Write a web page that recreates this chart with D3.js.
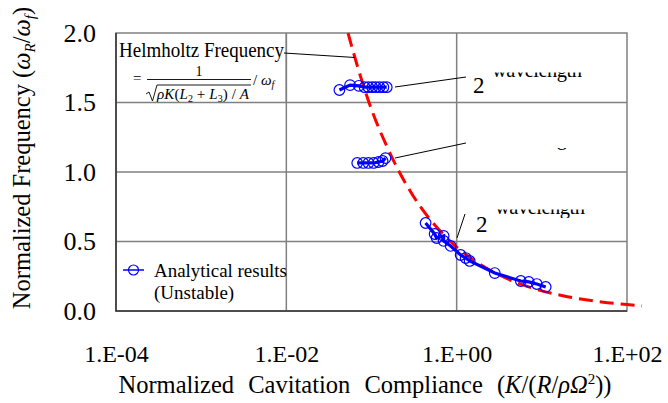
<!DOCTYPE html>
<html>
<head>
<meta charset="utf-8">
<script src="https://cdn.jsdelivr.net/npm/d3@7"></script>
<style>
  html, body { margin: 0; padding: 0; background: #fff; }
  svg { display: block; font-family: "Liberation Serif", "Times New Roman", serif; }
</style>
</head>
<body>
<svg id="chart" width="668" height="403"></svg>
<script>
// Axis ticks
const xTicks = [1e-4, 1e-2, 1, 1e2];
const yTicks = [0, 0.5, 1.0, 1.5, 2.0];

// Analytical results (unstable), normalized compliance vs normalized frequency
const upperK = [0.042, 0.056, 0.071, 0.083, 0.092, 0.102, 0.112, 0.124, 0.138, 0.151];
const upperF = [1.59, 1.625, 1.62, 1.61, 1.61, 1.61, 1.61, 1.61, 1.61, 1.61];

const middleK = [0.068, 0.080, 0.092, 0.106, 0.121, 0.135, 0.146];
const middleF = [1.065, 1.065, 1.065, 1.065, 1.072, 1.079, 1.10];

const lowerK = [0.432, 0.551, 0.582, 0.703, 0.703, 0.850, 1.114, 1.276, 1.422, 2.80, 5.66, 7.03, 8.73, 11.1];
const lowerF = [0.633, 0.554, 0.525, 0.540, 0.504, 0.468, 0.403, 0.381, 0.360, 0.273, 0.216, 0.209, 0.194, 0.173];

// Helmholtz frequency curve
const helmK = [0.053, 0.07, 0.1, 0.15, 0.2, 0.3, 0.5, 0.7, 1, 1.5, 2, 3, 5, 7, 10, 20, 30, 50, 100, 150];
const helmF = [2.0, 1.74, 1.45, 1.19, 1.03, 0.84, 0.65, 0.55, 0.46, 0.376, 0.325, 0.266, 0.206, 0.174, 0.145, 0.103, 0.084, 0.065, 0.046, 0.038];

const svg = d3.select("#chart");
const pL = 116, pR = 627, pT = 33, pB = 311;

const x = d3.scaleLog().domain([1e-4, 1e2]).range([pL, pR]);
const y = d3.scaleLinear().domain([0, 2]).range([pB, pT]);

const gridColor = "#808080";

// Grid
svg.append("g").selectAll("line").data([0.5, 1.0, 1.5]).join("line")
  .attr("x1", pL).attr("x2", pR)
  .attr("y1", d => y(d)).attr("y2", d => y(d))
  .attr("stroke", gridColor).attr("stroke-width", 1.5);
svg.append("g").selectAll("line").data([1e-2, 1]).join("line")
  .attr("x1", d => x(d)).attr("x2", d => x(d))
  .attr("y1", pT).attr("y2", pB)
  .attr("stroke", gridColor).attr("stroke-width", 1.5);

// Frame
svg.append("rect").attr("x", pL).attr("y", pT)
  .attr("width", pR - pL).attr("height", pB - pT)
  .attr("fill", "none").attr("stroke", gridColor).attr("stroke-width", 1.5);
svg.append("path")
  .attr("d", `M${pL},${pT}V${pB}H${pR}`)
  .attr("fill", "none").attr("stroke", "#333").attr("stroke-width", 1.5);

// Axes
const fmtX = d => {
  const e = Math.round(Math.log10(d));
  return "1.E" + (e < 0 ? "-" : "+") + String(Math.abs(e)).padStart(2, "0");
};
const gx = svg.append("g").attr("transform", `translate(0,${pB})`)
  .call(d3.axisBottom(x).tickValues(xTicks).tickFormat(fmtX).tickSize(0).tickPadding(34));
gx.select(".domain").remove();
gx.selectAll("text").attr("font-size", 24).attr("font-family", "Liberation Serif").attr("fill", "#000");

const gy = svg.append("g").attr("transform", `translate(${pL},0)`)
  .call(d3.axisLeft(y).tickValues(yTicks).tickFormat(d3.format(".1f")).tickSize(0).tickPadding(20));
gy.select(".domain").remove();
gy.selectAll("text").attr("font-size", 26).attr("font-family", "Liberation Serif").attr("fill", "#000");

// Axis titles
const xt = svg.append("text").attr("x", 365).attr("y", 393)
  .attr("text-anchor", "middle").attr("font-size", 24.5).attr("fill", "#000")
  .attr("word-spacing", 8);
xt.append("tspan").text("Normalized Cavitation Compliance (");
xt.append("tspan").attr("font-style", "italic").text("K");
xt.append("tspan").text("/(");
xt.append("tspan").attr("font-style", "italic").text("R");
xt.append("tspan").text("/");
xt.append("tspan").attr("font-style", "italic").text("ρΩ");
xt.append("tspan").attr("font-size", 15).attr("dy", -9).text("2");
xt.append("tspan").attr("dy", 9).text("))");

const yt = svg.append("text").attr("transform", "translate(30,158) rotate(-90)")
  .attr("text-anchor", "middle").attr("font-size", 24.5).attr("fill", "#000");
yt.append("tspan").text("Normalized Frequency (");
yt.append("tspan").attr("font-style", "italic").text("ω");
yt.append("tspan").attr("font-style", "italic").attr("font-size", 15).attr("dy", 5).text("R");
yt.append("tspan").attr("dy", -5).text("/");
yt.append("tspan").attr("font-style", "italic").text("ω");
yt.append("tspan").attr("font-style", "italic").attr("font-size", 15).attr("dy", 5).text("f");
yt.append("tspan").attr("dy", -5).text(")");

// Helmholtz curve
const helm = helmK.map((k, i) => [k, helmF[i]]);
svg.append("path").datum(helm)
  .attr("d", d3.line().x(d => x(d[0])).y(d => y(d[1])).curve(d3.curveMonotoneX))
  .attr("fill", "none").attr("stroke", "#ff0000").attr("stroke-width", 3)
  .attr("stroke-dasharray", "14,7");

// Analytical result series
const blue = "#0000ff";
const groups = [
  upperK.map((k, i) => [k, upperF[i]]),
  middleK.map((k, i) => [k, middleF[i]]),
  lowerK.map((k, i) => [k, lowerF[i]])
];
const line = d3.line().x(d => x(d[0])).y(d => y(d[1]));
groups.forEach(g => {
  svg.append("path").datum(g).attr("d", line)
    .attr("fill", "none").attr("stroke", blue).attr("stroke-width", 3.2);
  svg.append("g").selectAll("circle").data(g).join("circle")
    .attr("cx", d => x(d[0])).attr("cy", d => y(d[1])).attr("r", 5.3)
    .attr("fill", "none").attr("stroke", blue).attr("stroke-width", 1.2);
});

// Helmholtz annotation
svg.append("rect").attr("x", pL + 1).attr("y", pT + 2).attr("width", 168).attr("height", 66)
  .attr("fill", "#fff");
svg.append("line").attr("x1", x(1e-2)).attr("x2", x(1e-2)).attr("y1", pT).attr("y2", y(1.5))
  .attr("stroke", gridColor).attr("stroke-width", 1.5);
svg.append("text").attr("x", 119).attr("y", 57).attr("font-size", 20.5)
  .attr("textLength", 165).attr("lengthAdjust", "spacingAndGlyphs")
  .attr("fill", "#000").text("Helmholtz Frequency");
svg.append("line").attr("x1", 284).attr("y1", 53).attr("x2", 355).attr("y2", 57.5)
  .attr("stroke", "#000").attr("stroke-width", 1);

const fs = 15;
svg.append("text").attr("x", 133).attr("y", 83).attr("font-size", fs).text("=");
svg.append("text").attr("x", 199).attr("y", 76).attr("font-size", 14).attr("text-anchor", "middle").text("1");
svg.append("line").attr("x1", 147).attr("x2", 251).attr("y1", 79.5).attr("y2", 79.5)
  .attr("stroke", "#000").attr("stroke-width", 0.9);
svg.append("path").attr("d", "M146,94 L149,92 L152.5,101 L157,85 L251,85")
  .attr("fill", "none").attr("stroke", "#000").attr("stroke-width", 0.9);
const den = svg.append("text").attr("x", 157).attr("y", 98.5).attr("font-size", fs)
  .attr("textLength", 92);
den.append("tspan").attr("font-style", "italic").text("ρK");
den.append("tspan").text("(");
den.append("tspan").attr("font-style", "italic").text("L");
den.append("tspan").attr("font-size", 10).attr("dy", 3).text("2");
den.append("tspan").attr("dy", -3).text(" + ");
den.append("tspan").attr("font-style", "italic").text("L");
den.append("tspan").attr("font-size", 10).attr("dy", 3).text("3");
den.append("tspan").attr("dy", -3).text(") / ");
den.append("tspan").attr("font-style", "italic").text("A");
const om = svg.append("text").attr("x", 253).attr("y", 85).attr("font-size", fs);
om.append("tspan").text("/ ");
om.append("tspan").attr("font-style", "italic").text("ω");
om.append("tspan").attr("font-style", "italic").attr("font-size", 10).attr("dy", 3).text("f");

// Mode annotations: leader lines and partly hidden labels
const defs = svg.append("defs");
const clips = [
  { id: "clipA", y0: 72.5, y1: 82 },
  { id: "clipB", y0: 148, y1: 152 },
  { id: "clipC", y0: 209.5, y1: 218 }
];
clips.forEach(c => {
  defs.append("clipPath").attr("id", c.id).append("rect")
    .attr("x", 488).attr("y", c.y0).attr("width", 120).attr("height", c.y1 - c.y0);
});

const leaders = [
  [395, 87, 466, 77],
  [395, 158, 466, 143],
  [457, 238, 465, 214]
];
svg.append("g").selectAll("line").data(leaders).join("line")
  .attr("x1", d => d[0]).attr("y1", d => d[1]).attr("x2", d => d[2]).attr("y2", d => d[3])
  .attr("stroke", "#000").attr("stroke-width", 1);

svg.append("text").attr("x", 473).attr("y", 93).attr("font-size", 23).text("2");
svg.append("text").attr("x", 476).attr("y", 232).attr("font-size", 23).text("2");
svg.append("text").attr("x", 492).attr("y", 76.5).attr("font-size", 20.5)
  .attr("textLength", 90).attr("clip-path", "url(#clipA)").text("wavelength");
svg.append("text").attr("x", 492).attr("y", 145).attr("font-size", 20.5)
  .attr("textLength", 90).attr("clip-path", "url(#clipB)").text("wavelength");
svg.append("text").attr("x", 495).attr("y", 213.5).attr("font-size", 20.5)
  .attr("textLength", 90).attr("clip-path", "url(#clipC)").text("wavelength");

// Legend
svg.append("line").attr("x1", 123).attr("x2", 144).attr("y1", 270).attr("y2", 270)
  .attr("stroke", blue).attr("stroke-width", 1.5);
svg.append("circle").attr("cx", 133.5).attr("cy", 270).attr("r", 5)
  .attr("fill", "none").attr("stroke", blue).attr("stroke-width", 1.2);
svg.append("text").attr("x", 154).attr("y", 277).attr("font-size", 19.5)
  .attr("textLength", 133).attr("lengthAdjust", "spacingAndGlyphs").text("Analytical results");
svg.append("text").attr("x", 154).attr("y", 299).attr("font-size", 19).text("(Unstable)");
</script>
</body>
</html>
